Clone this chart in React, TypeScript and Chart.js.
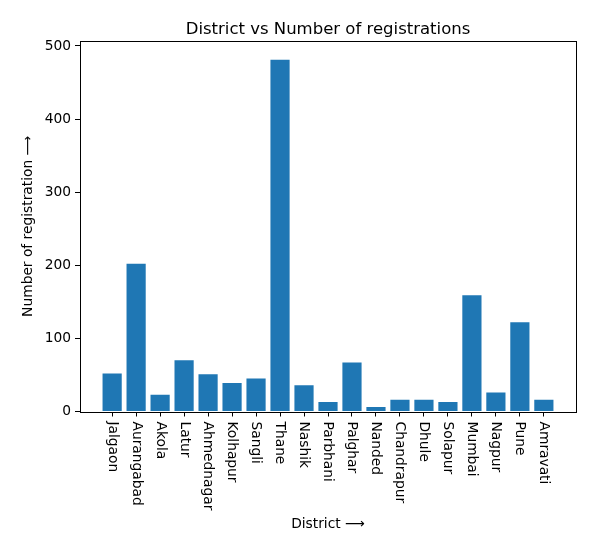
import React, { useEffect, useRef } from "react";
import { Chart, registerables } from "chart.js";

Chart.register(...registerables);

const districts = [
  "Jalgaon", "Aurangabad", "Akola", "Latur", "Ahmednagar", "Kolhapur", "Sangli", "Thane",
  "Nashik", "Parbhani", "Palghar", "Nanded", "Chandrapur", "Dhule", "Solapur", "Mumbai",
  "Nagpur", "Pune", "Amravati",
];
const registrations = [52, 202, 23, 70, 51, 39, 45, 481, 36, 13, 67, 6, 16, 16, 13, 159, 26, 122, 16];
const yTicks = [0, 100, 200, 300, 400, 500];

const chartTitle = "District vs Number of registrations";
const xTitle = "District \u27F6";
const yTitle = "Number of registration \u27F6";

const FONT = "'DejaVu Sans', sans-serif";

export default function App() {
  const ref = useRef<HTMLCanvasElement | null>(null);

  useEffect(() => {
    document.body.style.margin = "0";
    const canvas = ref.current;
    if (!canvas) return;

    const textPlugin = {
      id: "textPlugin",
      afterDraw(chart: any) {
        const ctx = chart.ctx as CanvasRenderingContext2D;
        const area = chart.chartArea;
        const xs = chart.scales.x;
        ctx.save();
        ctx.fillStyle = "#000";
        ctx.font = `16.5px ${FONT}`;
        ctx.textAlign = "center";
        ctx.textBaseline = "alphabetic";
        ctx.fillText(chartTitle, (area.left + area.right) / 2, area.top - 7);
        ctx.font = `13.8px ${FONT}`;
        districts.forEach((d, i) => {
          const px = xs.getPixelForValue(i);
          ctx.save();
          ctx.translate(px, area.bottom + 10);
          ctx.rotate(Math.PI / 2);
          ctx.textAlign = "left";
          ctx.textBaseline = "middle";
          ctx.fillText(d, 0, 0);
          ctx.restore();
        });
        ctx.textAlign = "center";
        ctx.textBaseline = "middle";
        ctx.fillText(xTitle, (area.left + area.right) / 2, 524);
        ctx.save();
        ctx.translate(28, (area.top + area.bottom) / 2);
        ctx.rotate(-Math.PI / 2);
        ctx.textAlign = "center";
        ctx.textBaseline = "middle";
        ctx.fillText(yTitle, 0, 0);
        ctx.restore();
        ctx.strokeStyle = "#000";
        ctx.lineWidth = 1;
        ctx.strokeRect(Math.round(area.left) + 0.5, Math.round(area.top) + 0.5,
          Math.round(area.right - area.left), Math.round(area.bottom - area.top));
        ctx.restore();
      },
    };

    const chart = new Chart(canvas, {
      type: "bar",
      data: {
        datasets: [
          {
            data: registrations.map((v, i) => ({ x: i, y: v })),
            backgroundColor: "#1f77b4",
            borderWidth: 0,
            categoryPercentage: 0.8,
            barPercentage: 1,
          },
        ],
      },
      options: {
        animation: false,
        responsive: false,
        maintainAspectRatio: false,
        layout: { padding: { top: 41, right: 19, left: 0, bottom: 0 } },
        plugins: {
          legend: { display: false },
          tooltip: { enabled: false },
          title: { display: false },
        },
        scales: {
          x: {
            type: "linear",
            offset: false,
            min: -1.34,
            max: 19.34,
            afterBuildTicks: (axis: any) => {
              axis.ticks = districts.map((_, i) => ({ value: i }));
            },
            afterFit: (axis: any) => {
              axis.height = 139.5;
            },
            ticks: { display: false, includeBounds: false },
            grid: {
              display: true,
              offset: false,
              drawOnChartArea: false,
              drawTicks: true,
              tickLength: 5,
              color: "#000",
              tickColor: "#000",
            },
            border: { display: false },
          },
          y: {
            type: "linear",
            min: 0,
            max: 506.8,
            afterBuildTicks: (axis: any) => {
              axis.ticks = yTicks.map((v) => ({ value: v }));
            },
            afterFit: (axis: any) => {
              axis.width = 80;
            },
            ticks: {
              color: "#000",
              font: { family: FONT, size: 13.8 },
              padding: 4,
            },
            grid: {
              display: true,
              drawOnChartArea: false,
              drawTicks: true,
              tickLength: 5,
              color: "#000",
              tickColor: "#000",
            },
            border: { display: false },
          },
        },
      },
      plugins: [textPlugin],
    } as any);

    return () => chart.destroy();
  }, []);

  return (
    <div style={{ position: "absolute", left: 0, top: 0, width: 595, height: 551, background: "#fff" }}>
      <canvas ref={ref} width={595} height={551} style={{ width: 595, height: 551 }} />
    </div>
  );
}
